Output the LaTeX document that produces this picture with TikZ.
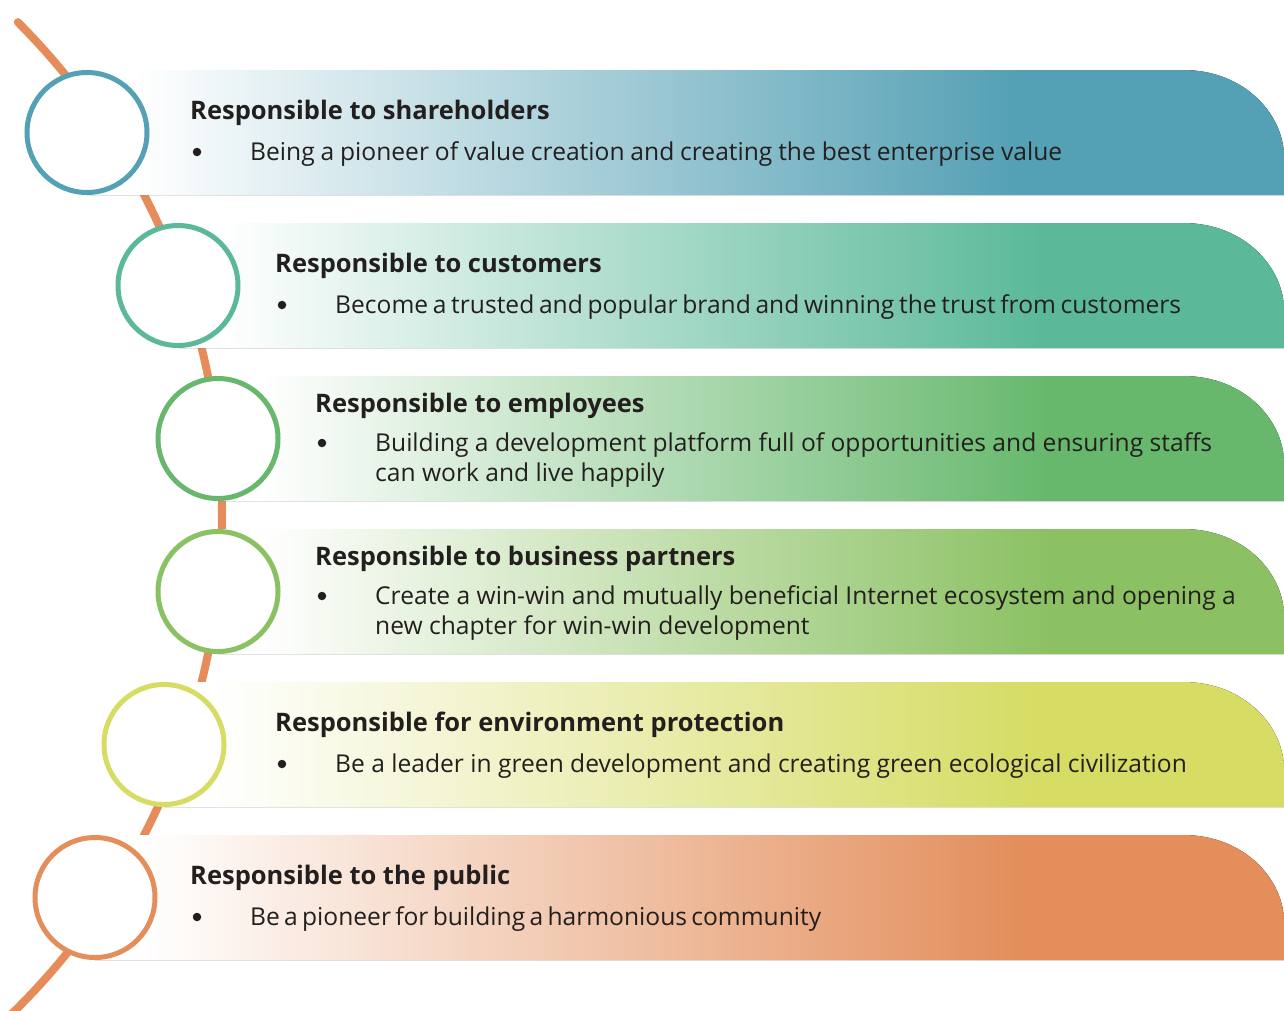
\documentclass[tikz,border=0pt]{standalone}
\usepackage{fontspec}
\setmainfont{Open Sans}
\usetikzlibrary{positioning,calc}
\definecolor{spineorange}{HTML}{E68C5A}
\definecolor{shareblue}{HTML}{54A0B4}
\definecolor{custgreen}{HTML}{5BB99A}
\definecolor{empgreen}{HTML}{67B86D}
\definecolor{partgreen}{HTML}{8BC163}
\definecolor{envyellow}{HTML}{D6DC64}
\definecolor{puborange}{HTML}{E38E5B}
\definecolor{ink}{HTML}{231F1E}
\colorlet{bandcol}{shareblue}
\pgfdeclarehorizontalshading[bandcol]{bandfade}{100bp}{color(0bp)=(white); color(27bp)=(white); color(64bp)=(bandcol); color(100bp)=(bandcol)}
\tikzset{ring/.style={draw,circle,line width=5pt,fill=white,minimum size=120pt,inner sep=0pt}}
\tikzset{band/.style={shading=bandfade}}
\tikzstyle{spine}=[draw=spineorange, line width=8pt, line cap=round]
\tikzstyle{headtext}=[anchor=base west, inner sep=0pt, text=ink, font=\bfseries\fontsize{25.5}{30}\selectfont]
\tikzstyle{bodytext}=[anchor=base west, inner sep=0pt, text=ink, font=\fontsize{24.6}{30}\selectfont]
\tikzstyle{bulletdot}=[circle, fill=ink, inner sep=0pt, minimum size=8.5pt]

\begin{document}
\begin{tikzpicture}[x=1pt, y=-1pt]
\useasboundingbox (0,0) rectangle (1284,1010);
% orange spine behind everything
\draw[spine] plot[domain=-45:46, samples=90] ({-475+697*cos(\x)},{515+697*sin(\x)});

% bands
\colorlet{bandcol}{shareblue}
\fill[band] (87,70) -- (1183,70) .. controls (1245,70) and (1284,115) .. (1284,157) -- (1284,195) -- (87,195) -- cycle;
\colorlet{bandcol}{custgreen}
\fill[band] (178,223) -- (1183,223) .. controls (1245,223) and (1284,268) .. (1284,310) -- (1284,348) -- (178,348) -- cycle;
\colorlet{bandcol}{empgreen}
\fill[band] (218,376) -- (1183,376) .. controls (1245,376) and (1284,421) .. (1284,463) -- (1284,501) -- (218,501) -- cycle;
\colorlet{bandcol}{partgreen}
\fill[band] (218,529) -- (1183,529) .. controls (1245,529) and (1284,574) .. (1284,616) -- (1284,654) -- (218,654) -- cycle;
\colorlet{bandcol}{envyellow}
\fill[band] (164,682) -- (1183,682) .. controls (1245,682) and (1284,727) .. (1284,769) -- (1284,807) -- (164,807) -- cycle;
\colorlet{bandcol}{puborange}
\fill[band] (95,835) -- (1183,835) .. controls (1245,835) and (1284,880) .. (1284,922) -- (1284,960) -- (95,960) -- cycle;

% rings
\node[ring, draw=shareblue] (c-share) at (87,132.5) {};
\node[ring, draw=custgreen] (c-cust) at (178,285.5) {};
\node[ring, draw=empgreen] (c-emp) at (218,438.5) {};
\node[ring, draw=partgreen] (c-part) at (218,591.5) {};
\node[ring, draw=envyellow] (c-env) at (164,744.5) {};
\node[ring, draw=puborange] (c-pub) at (95,897.5) {};

% texts
\node[headtext] (t-share) at (190,119) {Responsible to shareholders};
\node[bulletdot] (d-share) at (197,152) {};
\node[bodytext] (b-share) at (250,160) {\makebox[812pt][s]{Being a pioneer of value creation and creating the best enterprise value}};

\node[headtext] (t-cust) at (275,272) {Responsible to customers};
\node[bulletdot] (d-cust) at (282,305) {};
\node[bodytext] (b-cust) at (335,313) {\makebox[846pt][s]{Become a trusted and popular brand and winning the trust from customers}};

\node[headtext] (t-emp) at (315,412) {Responsible to employees};
\node[bulletdot] (d-emp) at (322,443) {};
\node[bodytext] (b-emp) at (375,451) {Building a development platform full of opportunities and ensuring staffs};
\node[bodytext] (b-emp2) at (375,481) {can work and live happily};

\node[headtext] (t-part) at (315,565) {Responsible to business partners};
\node[bulletdot] (d-part) at (322,596) {};
\node[bodytext] (b-part) at (375,604) {Create a win-win and mutually beneficial Internet ecosystem and opening a};
\node[bodytext] (b-part2) at (375,634) {new chapter for win-win development};

\node[headtext] (t-env) at (275,731) {Responsible for environment protection};
\node[bulletdot] (d-env) at (282,764) {};
\node[bodytext] (b-env) at (335,772) {Be a leader in green development and creating green ecological civilization};

\node[headtext] (t-pub) at (190,884) {Responsible to the public};
\node[bulletdot] (d-pub) at (197,917) {};
\node[bodytext] (b-pub) at (250,925) {\makebox[568pt][s]{Be a pioneer for building a harmonious community}};
\end{tikzpicture}
\end{document}
